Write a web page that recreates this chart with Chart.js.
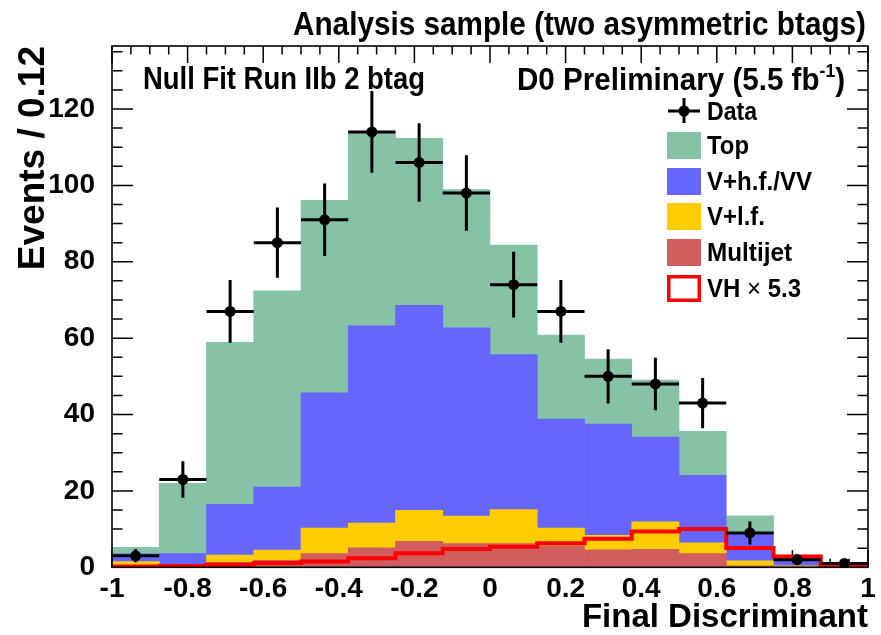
<!DOCTYPE html>
<html>
<head>
<meta charset="utf-8">
<script src="https://cdn.jsdelivr.net/npm/chart.js@4.4.1/dist/chart.umd.min.js"></script>
<style>
  html, body { margin: 0; padding: 0; background: #fff; }
  canvas { display: block; }
</style>
</head>
<body>
<canvas id="c" width="881" height="635"></canvas>
<script>
// Final discriminant: 16 bins of width 0.125 between -1 and 1
const binEdges = [-1, -0.875, -0.75, -0.625, -0.5, -0.375, -0.25, -0.125, 0, 0.125, 0.25, 0.375, 0.5, 0.625, 0.75, 0.875, 1];
const binCenters = [-0.9375, -0.8125, -0.6875, -0.5625, -0.4375, -0.3125, -0.1875, -0.0625, 0.0625, 0.1875, 0.3125, 0.4375, 0.5625, 0.6875, 0.8125, 0.9375];

// Background expectations per bin (stacked bottom to top)
const multijet = [0.3, 0.2, 1.3, 1.8, 3.6, 5.1, 6.8, 6.2, 6.2, 5.6, 4.6, 4.7, 3.6, 0.4, 0.1, 0.05];
const vlf      = [1.2, 0.3, 1.9, 2.7, 6.7, 6.5, 8.1, 7.2, 8.9, 4.7, 3.8, 7.2, 2.8, 1.3, 0.3, 0.05];
const vhfvv    = [2.0, 3.1, 13.3, 16.5, 35.4, 51.6, 53.7, 49.3, 40.6, 28.5, 29.1, 22.2, 17.7, 7.3, 1.8, 0.6];
const topQuark = [1.7, 18.4, 42.4, 51.4, 50.4, 50.7, 43.7, 36.2, 28.7, 22.0, 17.0, 14.9, 11.5, 4.5, 0.2, 0.2];

// Signal (VH scaled by 5.3), drawn as an outline
const vhSignal = [0.2, 0.35, 0.7, 1.1, 1.5, 2.35, 3.7, 4.8, 5.4, 6.3, 7.5, 9.4, 10.0, 5.05, 2.8, 0.4];

// Observed events and their statistical errors
const dataCounts = [3, 23, 67, 85, 91, 114, 106, 98, 74, 67, 50, 48, 43, 9, 2, 1];
const dataErrors = [1.7, 4.8, 8.2, 9.2, 9.5, 10.7, 10.3, 9.9, 8.6, 8.2, 7.1, 6.9, 6.6, 3.0, 1.4, 1.0];

// Axis tick labels
const xTickValues = [-1, -0.8, -0.6, -0.4, -0.2, 0, 0.2, 0.4, 0.6, 0.8, 1];
const yTickValues = [0, 20, 40, 60, 80, 100, 120];
const yMax = 136.5;

const COLORS = {
  top: 'rgb(134,194,166)',
  vhf: 'rgb(102,102,255)',
  vlf: 'rgb(255,204,0)',
  mj:  'rgb(208,94,94)',
  vh:  '#ff0000',
  data: '#000000'
};

const SANS = "'Liberation Sans', Arial, Helvetica, sans-serif";

function fontAvailable(name) {
  const c = document.createElement('canvas').getContext('2d');
  const s = 'abcdefghijklmnopqrstuvwxyz0123456789';
  c.font = 'bold 40px monospace';
  const a = c.measureText(s).width;
  c.font = `bold 40px "${name}", monospace`;
  return c.measureText(s).width !== a;
}
const narrow = fontAvailable('Liberation Sans Narrow');
const tickFont = narrow
  ? { family: "'Liberation Sans Narrow', 'Liberation Sans', sans-serif", size: 33, weight: 'bold', lineHeight: 1 }
  : { family: SANS, size: 28, weight: 'bold', lineHeight: 1 };

const toPoints = vals => binCenters.map((x, i) => ({ x, y: vals[i] }));
// one point per bin edge; each segment carries the value of the bin it starts
const vhSteps = binEdges.map((x, i) => ({ x, y: vhSignal[Math.min(i, vhSignal.length - 1)] }));

// Draws a run of text segments, squeezed horizontally to a given width
function drawText(ctx, segs, x, baseline, width, align) {
  ctx.save();
  let total = 0;
  segs.forEach(s => {
    ctx.font = `${s.weight || 'bold'} ${s.size}px ${SANS}`;
    s.w = ctx.measureText(s.t).width;
    total += s.w;
  });
  const sx = width ? width / total : 1;
  const left = align === 'right' ? x - total * sx : x;
  ctx.translate(left, baseline);
  ctx.scale(sx, 1);
  ctx.fillStyle = '#000';
  ctx.textAlign = 'left';
  ctx.textBaseline = 'alphabetic';
  let cx = 0;
  segs.forEach(s => {
    ctx.font = `${s.weight || 'bold'} ${s.size}px ${SANS}`;
    ctx.fillText(s.t, cx, -(s.rise || 0));
    cx += s.w;
  });
  ctx.restore();
}

// Inward tick marks on all four sides of the frame
const frameTicks = {
  id: 'frameTicks',
  beforeDatasetsDraw(chart) {
    const { ctx, chartArea: a, scales: { x, y } } = chart;
    ctx.save();
    ctx.strokeStyle = '#000';
    ctx.lineWidth = 1.5;
    ctx.beginPath();
    for (let k = -20; k <= 20; k++) {
      const px = x.getPixelForValue(k * 0.05);
      const len = (k % 4 === 0) ? 17 : 8.5;
      ctx.moveTo(px, a.bottom); ctx.lineTo(px, a.bottom - len);
      ctx.moveTo(px, a.top); ctx.lineTo(px, a.top + len);
    }
    for (let v = 0; v <= yMax; v += 5) {
      const py = y.getPixelForValue(v);
      const len = (v % 20 === 0) ? 21 : 10.5;
      ctx.moveTo(a.left, py); ctx.lineTo(a.left + len, py);
      ctx.moveTo(a.right, py); ctx.lineTo(a.right - len, py);
    }
    ctx.stroke();
    ctx.restore();
  },
  afterDatasetsDraw(chart) {
    const { ctx, chartArea: a } = chart;
    ctx.save();
    ctx.strokeStyle = '#000';
    ctx.lineWidth = 1.6;
    ctx.strokeRect(a.left, a.top, a.right - a.left, a.bottom - a.top);
    ctx.restore();
  }
};

// Horizontal (bin width) and vertical (statistical) error bars for the data
const errorBars = {
  id: 'errorBars',
  beforeDatasetDraw(chart, args) {
    if (chart.data.datasets[args.index].label !== 'Data') return;
    const { ctx, scales: { x, y } } = chart;
    ctx.save();
    ctx.strokeStyle = COLORS.data;
    ctx.lineWidth = 3;
    ctx.beginPath();
    dataCounts.forEach((v, i) => {
      const px = x.getPixelForValue(binCenters[i]);
      const py = y.getPixelForValue(v);
      ctx.moveTo(x.getPixelForValue(binEdges[i]), py);
      ctx.lineTo(x.getPixelForValue(binEdges[i + 1]), py);
      ctx.moveTo(px, y.getPixelForValue(v - dataErrors[i]));
      ctx.lineTo(px, y.getPixelForValue(v + dataErrors[i]));
    });
    ctx.stroke();
    ctx.restore();
  }
};

// Title, labels and the legend box
const annotations = {
  id: 'annotations',
  afterDraw(chart) {
    const ctx = chart.ctx;
    drawText(ctx, [{ t: 'Analysis sample (two asymmetric btags)', size: 33 }], 293, 35, 573);
    drawText(ctx, [{ t: 'Null Fit Run IIb 2 btag', size: 32 }], 143, 89, 282);
    drawText(ctx, [
      { t: 'D0 Preliminary (5.5 fb', size: 32 },
      { t: '-1', size: 19, rise: 13 },
      { t: ')', size: 32 }
    ], 517, 90, 328);

    // legend
    const bx = 667, bw = 34, bh = 27, tx = 707;
    ctx.save();
    const dy = 111, dcx = bx + bw / 2;
    ctx.strokeStyle = COLORS.data;
    ctx.lineWidth = 3;
    ctx.beginPath();
    ctx.moveTo(bx + 1, dy); ctx.lineTo(bx + bw - 1, dy);
    ctx.moveTo(dcx, dy - 13); ctx.lineTo(dcx, dy + 12);
    ctx.stroke();
    ctx.fillStyle = COLORS.data;
    ctx.beginPath(); ctx.arc(dcx, dy, 5.5, 0, Math.PI * 2); ctx.fill();

    const rows = [
      { c: 145.5, fill: COLORS.top },
      { c: 181.5, fill: COLORS.vhf },
      { c: 216.5, fill: COLORS.vlf },
      { c: 252.5, fill: COLORS.mj }
    ];
    rows.forEach(r => {
      ctx.fillStyle = r.fill;
      ctx.fillRect(bx, r.c - bh / 2, bw, bh);
    });
    ctx.fillStyle = '#fff';
    ctx.fillRect(bx, 288.5 - bh / 2, bw, bh);
    ctx.strokeStyle = COLORS.vh;
    ctx.lineWidth = 3.5;
    ctx.strokeRect(bx + 1.75, 288.5 - bh / 2 + 1.75, bw - 3.5, bh - 3.5);
    ctx.restore();

    drawText(ctx, [{ t: 'Data', size: 25 }], tx, 120, 50);
    drawText(ctx, [{ t: 'Top', size: 25 }], tx, 154, 42);
    drawText(ctx, [{ t: 'V+h.f./VV', size: 25 }], tx, 190, 105);
    drawText(ctx, [{ t: 'V+l.f.', size: 25 }], tx, 225, 58);
    drawText(ctx, [{ t: 'Multijet', size: 25 }], tx, 261, 85);
    drawText(ctx, [
      { t: 'VH ', size: 25 },
      { t: '\u00d7', size: 25, weight: 'normal' },
      { t: ' 5.3', size: 25 }
    ], tx, 297, 94);
  }
};

const barStyle = { stack: 'bkg', borderWidth: 0, order: 2, barPercentage: 1, categoryPercentage: 1 };

new Chart(document.getElementById('c'), {
  type: 'bar',
  data: {
    datasets: [
      { label: 'Multijet', data: toPoints(multijet), backgroundColor: COLORS.mj, ...barStyle },
      { label: 'V+l.f.', data: toPoints(vlf), backgroundColor: COLORS.vlf, ...barStyle },
      { label: 'V+h.f./VV', data: toPoints(vhfvv), backgroundColor: COLORS.vhf, ...barStyle },
      { label: 'Top', data: toPoints(topQuark), backgroundColor: COLORS.top, ...barStyle },
      {
        type: 'line', label: 'VH \u00d7 5.3', data: vhSteps, stack: 'signal', order: 1,
        borderColor: COLORS.vh, borderWidth: 4, stepped: 'before', pointRadius: 0, fill: false
      },
      {
        type: 'scatter', label: 'Data', data: toPoints(dataCounts), stack: 'observed', order: 0,
        pointRadius: 5.5, pointBackgroundColor: COLORS.data, pointBorderWidth: 0
      }
    ]
  },
  options: {
    responsive: false,
    animation: false,
    devicePixelRatio: 1,
    layout: { padding: { top: 46, right: 13, left: 0, bottom: 0 } },
    plugins: { legend: { display: false }, tooltip: { enabled: false } },
    scales: {
      x: {
        type: 'linear', min: -1, max: 1, offset: false,
        grid: { display: false, offset: false },
        border: { display: false },
        afterBuildTicks: s => { s.ticks = xTickValues.map(v => ({ value: v })); },
        afterFit: s => { s.height = 635 - 567.3; },
        ticks: {
          autoSkip: false, maxRotation: 0, padding: 0, color: '#000', font: tickFont,
          callback: v => String(Number(v.toFixed(2)))
        },
        title: {
          display: true, text: 'Final Discriminant', align: 'end', color: '#000',
          font: { family: SANS, size: 33, weight: 'bold', lineHeight: 1 },
          padding: { top: 0, bottom: 1 }
        }
      },
      y: {
        stacked: true, min: 0, max: yMax,
        grid: { display: false },
        border: { display: false },
        afterBuildTicks: s => { s.ticks = yTickValues.map(v => ({ value: v })); },
        afterFit: s => { s.width = 112; },
        ticks: { padding: 9, color: '#000', font: tickFont, callback: v => String(v) },
        title: {
          display: true, text: 'Events / 0.12', align: 'end', color: '#000',
          font: { family: SANS, size: 37, weight: 'bold', lineHeight: 1 },
          padding: { top: 15, bottom: 0 }
        }
      }
    }
  },
  plugins: [frameTicks, errorBars, annotations]
});
</script>
</body>
</html>
